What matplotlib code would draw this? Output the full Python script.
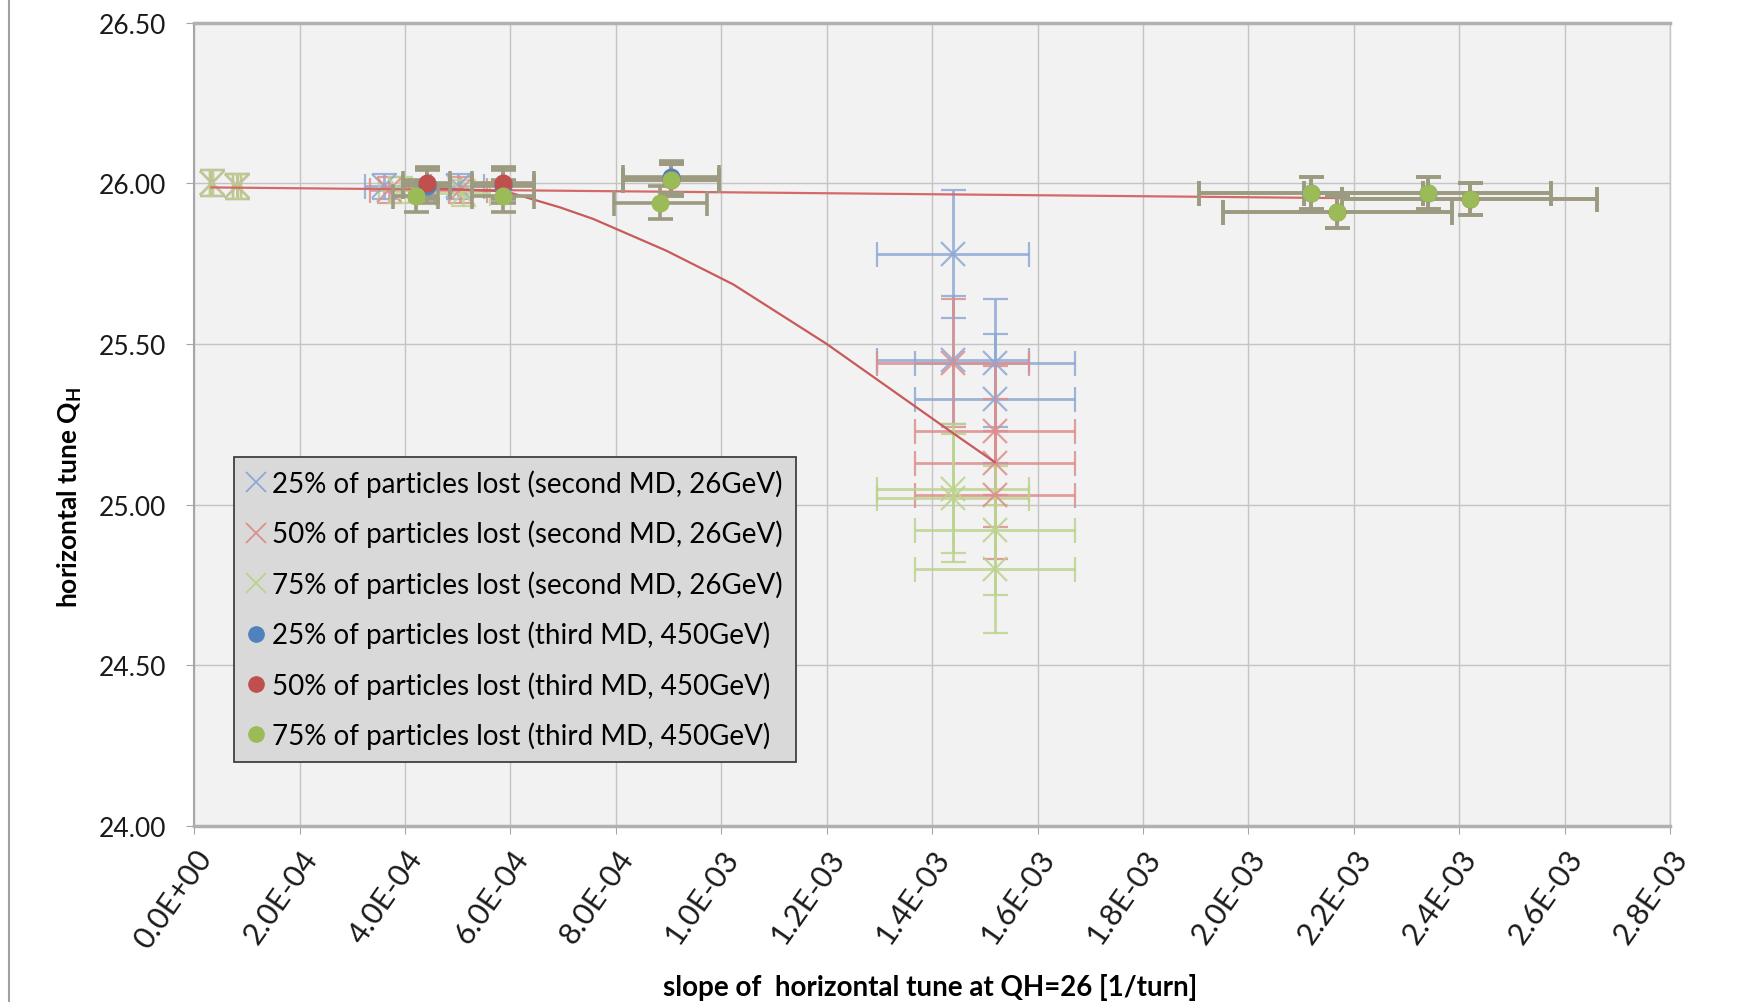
import matplotlib
matplotlib.use("Agg")
import matplotlib.pyplot as plt
from matplotlib.lines import Line2D

plt.rcParams['font.family'] = ['Lato', 'DejaVu Sans']

# ---- second MD, 26 GeV (cross markers) ----
md2_25_x = [3.3e-5, 8.1e-5, 3.6e-4, 5.0e-4, 1.44e-3, 1.44e-3, 1.52e-3, 1.52e-3]
md2_25_y = [26.00, 25.99, 25.99, 25.99, 25.78, 25.45, 25.44, 25.33]
md2_50_x = [3.3e-5, 8.1e-5, 3.7e-4, 5.05e-4, 1.44e-3, 1.52e-3, 1.52e-3, 1.52e-3]
md2_50_y = [26.00, 25.99, 25.98, 25.98, 25.44, 25.23, 25.13, 25.03]
md2_75_x = [3.3e-5, 8.1e-5, 3.9e-4, 5.1e-4, 1.44e-3, 1.44e-3, 1.52e-3, 1.52e-3]
md2_75_y = [26.00, 25.99, 25.98, 25.97, 25.05, 25.02, 24.92, 24.80]
md2_yerr = [0.04, 0.04, 0.04, 0.04, 0.20, 0.20, 0.20, 0.20]

# ---- third MD, 450 GeV (dot markers) ----
md3_25_x = [4.41e-4, 5.86e-4, 9.05e-4, 2.119e-3, 2.34e-3]
md3_25_y = [25.99, 25.99, 26.02, 25.97, 25.97]
md3_50_x = [4.41e-4, 5.86e-4, 9.05e-4, 2.169e-3, 2.42e-3]
md3_50_y = [26.00, 26.00, 26.01, 25.91, 25.95]
md3_75_x = [4.2e-4, 5.86e-4, 8.84e-4, 9.05e-4, 2.119e-3, 2.169e-3, 2.34e-3, 2.42e-3]
md3_75_y = [25.96, 25.96, 25.94, 26.01, 25.97, 25.91, 25.97, 25.95]
md3_yerr = 0.05
rel_xerr = 0.10

# ---- trend lines ----
flat_x = [3.3e-5, 2.42e-3]
flat_y = [25.987, 25.950]
curve_x = [4.4e-4, 5.86e-4, 6.05e-4, 6.94e-4, 7.57e-4, 8.96e-4, 1.023e-3,
           1.2e-3, 1.364e-3, 1.44e-3, 1.519e-3]
curve_y = [25.985, 25.975, 25.968, 25.925, 25.889, 25.790, 25.685,
           25.500, 25.310, 25.222, 25.132]

xticks = [i * 2e-4 for i in range(15)]
xtick_labels = ["0.0E+00", "2.0E-04", "4.0E-04", "6.0E-04", "8.0E-04", "1.0E-03",
                "1.2E-03", "1.4E-03", "1.6E-03", "1.8E-03", "2.0E-03", "2.2E-03",
                "2.4E-03", "2.6E-03", "2.8E-03"]
yticks = [24.0, 24.5, 25.0, 25.5, 26.0, 26.5]
ytick_labels = ["24.00", "24.50", "25.00", "25.50", "26.00", "26.50"]

labels = ["25% of particles lost (second MD, 26GeV)",
          "50% of particles lost (second MD, 26GeV)",
          "75% of particles lost (second MD, 26GeV)",
          "25% of particles lost (third MD, 450GeV)",
          "50% of particles lost (third MD, 450GeV)",
          "75% of particles lost (third MD, 450GeV)"]

BLUE, RED, GREEN = "#4f81bd", "#c0504d", "#9bbb59"
PALE = {BLUE: "#8ea8d4", RED: "#dc8f8d", GREEN: "#bcd38e"}

fig = plt.figure(figsize=(17.6, 10.03), dpi=100)
ax = fig.add_axes([0.1103, 0.1755, 0.8386, 0.801])
ax.set_facecolor("#f2f2f2")
ax.set_xlim(0, 2.8e-3)
ax.set_ylim(24.0, 26.5)
ax.set_axisbelow(True)
ax.grid(True, color="#c4c4c4", lw=1.0)

# second MD series
for xs, ys, c in [(md2_25_x, md2_25_y, BLUE), (md2_50_x, md2_50_y, RED),
                  (md2_75_x, md2_75_y, GREEN)]:
    xe = [rel_xerr * v for v in xs]
    ax.errorbar(xs, ys, xerr=xe, yerr=md2_yerr, fmt='x', ms=17, mew=1.6,
                color=PALE[c], ecolor=PALE[c], elinewidth=2.0, capsize=9,
                capthick=2.0, alpha=0.85, zorder=3)

# trend lines
ax.plot(flat_x, flat_y, color="#d46a68", lw=1.6, zorder=4)
ax.plot(curve_x, curve_y, color="#c85a5a", lw=1.6, zorder=4)

# third MD series
for xs, ys, c in [(md3_25_x, md3_25_y, BLUE), (md3_50_x, md3_50_y, RED),
                  (md3_75_x, md3_75_y, GREEN)]:
    xe = [rel_xerr * v for v in xs]
    ax.errorbar(xs, ys, xerr=xe, yerr=md3_yerr, fmt='none', ecolor="#9c9a80",
                elinewidth=2.6, capsize=9, capthick=2.6, zorder=5)
    ax.plot(xs, ys, 'o', ms=12, color=c, mec=c, zorder=6)

ax.set_xticks(xticks)
ax.set_xticklabels(xtick_labels, rotation=55, ha='right', rotation_mode='anchor',
                   fontsize=22, color="#1a1a1a")
ax.set_yticks(yticks)
ax.set_yticklabels(ytick_labels, fontsize=19, color="#1a1a1a")
ax.tick_params(axis='both', direction='out', length=6, color="#a6a6a6")
ax.tick_params(axis='x', pad=7)
ax.tick_params(axis='y', pad=14)

for side in ("top", "bottom"):
    ax.spines[side].set_color("#b0b0b0")
    ax.spines[side].set_linewidth(2.5)
ax.spines["left"].set_color("#a6a6a6")
ax.spines["left"].set_linewidth(1.5)
ax.spines["right"].set_color("#c4c4c4")
ax.spines["right"].set_linewidth(1.0)

fig.text(0.0395, 1 - 497 / 1003, r"horizontal tune Q$_\mathregular{H}$",
         rotation=90, ha='center', va='center', fontsize=19, fontweight='bold')
fig.text(0.5287, 0.015, "slope of  horizontal tune at QH=26 [1/turn]",
         ha='center', va='center', fontsize=20, fontweight='bold')

# chart-area border on the left
fig.add_artist(Line2D([9 / 1760, 9 / 1760], [0, 1], transform=fig.transFigure,
                      color="#a0a0a0", lw=1.5))

handles = [
    Line2D([], [], ls='none', marker='x', ms=15, mew=1.3, color=PALE[BLUE]),
    Line2D([], [], ls='none', marker='x', ms=15, mew=1.3, color=PALE[RED]),
    Line2D([], [], ls='none', marker='x', ms=15, mew=1.3, color=PALE[GREEN]),
    Line2D([], [], ls='none', marker='o', ms=11, color=BLUE),
    Line2D([], [], ls='none', marker='o', ms=11, color=RED),
    Line2D([], [], ls='none', marker='o', ms=11, color=GREEN),
]
leg = ax.legend(handles, labels, loc='upper left',
                bbox_to_anchor=(233.5 / 1760, 1 - 458 / 1003),
                bbox_transform=fig.transFigure, borderaxespad=0,
                fontsize=20, frameon=True, fancybox=False, framealpha=1,
                facecolor="#d9d9d9", edgecolor="#404040",
                handlelength=0.7, handletextpad=0.25, labelspacing=0.82,
                borderpad=0.45)
leg.get_frame().set_linewidth(1.3)
leg.set_zorder(10)

fig.savefig("out.png", dpi=100, facecolor="white")
